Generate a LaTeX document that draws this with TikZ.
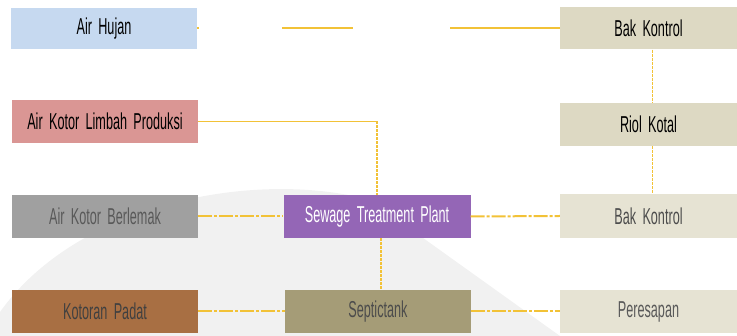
\documentclass[tikz,border=0pt]{standalone}
\usepackage{fontspec}
\setmainfont[FakeStretch=0.55,WordSpace=1.8]{Liberation Sans}
\definecolor{pipe}{HTML}{F2C237}
\definecolor{cHujan}{HTML}{C6D9F0}
\definecolor{cLimbah}{HTML}{DA9694}
\definecolor{cLemak}{HTML}{A0A0A0}
\definecolor{cStp}{HTML}{9466B6}
\definecolor{cPadat}{HTML}{A86F43}
\definecolor{cSeptic}{HTML}{A59C77}
\definecolor{cBak}{HTML}{DDD9C3}
\definecolor{cPale}{HTML}{E6E3D3}
\begin{document}
\begin{tikzpicture}[x=1pt,y=-1pt,
  unit/.style={shape=rectangle,minimum height=43pt,inner sep=0pt,font=\fontsize{23}{23}\selectfont},
  unitL/.style={unit,minimum width=186pt},
  unitR/.style={unit,minimum width=177pt},
  flow/.style={draw=pipe,line width=2pt,dash pattern=on 14pt off 2pt on 3pt off 2pt},
  drop/.style={draw=pipe,line width=1.6pt,dash pattern=on 3pt off 1pt}]
\def\xa{105};
\def\xb{377};
\def\xc{648.5};
\def\dy{95};

\useasboundingbox (0,0) rectangle (737,336);

% watermark
\fill[gray!11] (0,312) .. controls (80,200) and (260,170) .. (370,200)
  -- (560,336) -- (0,336) -- cycle;

\node[unitL,fill=cHujan,minimum height=41pt] (hujan) at (104,28.5) {Air Hujan};
\node[unitR,fill=cBak,minimum height=42pt] (bakA) at (\xc,28.5) {Bak Kontrol};

\node[unitL,fill=cLimbah] (limbah) at (\xa,121.5) {Air Kotor Limbah Produksi};
\node[unitR,fill=cBak] (riol) at (\xc,124.5) {Riol Kotal};

\node[unitL,fill=cLemak,text=black!65] (lemak) at (\xa,121.5+\dy) {Air Kotor Berlemak};
\node[unitL,fill=cStp,text=white,minimum width=187pt] (stp) at (\xb,121.5+\dy) {Sewage Treatment Plant};
\node[unitR,fill=cPale,text=black!70,minimum height=44pt] (bakB) at (\xc,121+\dy) {Bak Kontrol};

\node[unitL,fill=cPadat,text=black!75] (padat) at (\xa,121.5+2*\dy) {Kotoran Padat};
\node[unitL,fill=cSeptic,text=black!70] (septic) at (\xb+1,121.5+2*\dy) {Septictank};
\node[unitR,fill=cPale,text=black!65] (resap) at (\xc,121.5+2*\dy) {Peresapan};

\draw[pipe,line width=2pt,dash pattern=on 2pt off 83pt on 71pt off 97pt on 110pt] (hujan.east) -- (bakA.west);
\draw[drop] ([xshift=4pt]bakA.south) -- ([xshift=4pt]riol.north);
\draw[drop] ([xshift=4pt]riol.south) -- ([xshift=4pt]bakB.north);

\coordinate (bend) at (limbah.east -| stp.north);
\draw[pipe,line width=1.4pt] (limbah.east) -- (bend);
\draw[drop,line width=2pt] (bend) -- (stp.north);

\draw[flow] (lemak.east) -- (stp.west);
\draw[flow] (stp.east) -- (bakB.west);
\draw[drop,line width=2pt] ([xshift=4pt]stp.south) -- ([xshift=4pt]stp.south |- septic.north);
\draw[flow] (padat.east) -- (septic.west);
\draw[flow] (septic.east) -- (resap.west);
\end{tikzpicture}
\end{document}
